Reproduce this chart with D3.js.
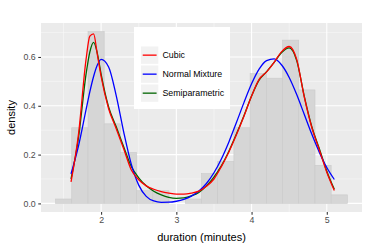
<!DOCTYPE html>
<html>
<head>
<meta charset="utf-8">
<script src="https://cdn.jsdelivr.net/npm/d3@7"></script>
<style>
  body { margin: 0; background: #fff; }
  svg { display: block; font-family: "Liberation Sans", Arial, sans-serif; }
</style>
</head>
<body>
<div id="chart"></div>
<script>
// histogram bins (edges) and density heights
const binEdges = [1.395, 1.61, 1.826, 2.041, 2.257, 2.472, 2.688, 2.903, 3.119, 3.334,
  3.55, 3.765, 3.981, 4.196, 4.412, 4.627, 4.843, 5.058, 5.274];
const binDensity = [0.018, 0.31, 0.704, 0.326, 0.209, 0.052, 0.052, 0, 0.018, 0.122,
  0.172, 0.31, 0.532, 0.513, 0.669, 0.465, 0.156, 0.035];

// density curves
const xGrid = [1.6, 1.7, 1.8, 1.85, 1.9, 1.95, 2.0, 2.1, 2.2, 2.3, 2.4, 2.5, 2.6, 2.7, 2.8, 2.9,
  3.0, 3.1, 3.2, 3.3, 3.4, 3.5, 3.6, 3.7, 3.8, 3.9, 4.0, 4.1, 4.2, 4.3, 4.4, 4.5, 4.6, 4.7, 4.8,
  4.9, 5.0, 5.1];
const cubic = [0.088, 0.285, 0.59, 0.685, 0.695, 0.61, 0.52, 0.388, 0.307, 0.224, 0.138, 0.097,
  0.072, 0.058, 0.048, 0.042, 0.038, 0.038, 0.042, 0.05, 0.07, 0.10, 0.152, 0.212, 0.282, 0.358,
  0.44, 0.508, 0.539, 0.578, 0.622, 0.643, 0.59, 0.437, 0.312, 0.22, 0.128, 0.053];
const normalMix = [0.121, 0.236, 0.384, 0.457, 0.520, 0.567, 0.590, 0.559, 0.443, 0.293, 0.162,
  0.075, 0.029, 0.010, 0.0046, 0.0049, 0.0088, 0.0165, 0.0296, 0.0505, 0.0817, 0.1256, 0.183,
  0.253, 0.3325, 0.414, 0.490, 0.550, 0.585, 0.592, 0.567, 0.516, 0.446, 0.365, 0.284, 0.210,
  0.147, 0.098];
const semiparam = [0.10, 0.27, 0.53, 0.62, 0.66, 0.615, 0.53, 0.395, 0.315, 0.232, 0.152, 0.105,
  0.072, 0.05, 0.035, 0.025, 0.021, 0.023, 0.031, 0.045, 0.072, 0.108, 0.155, 0.215, 0.285, 0.36,
  0.44, 0.505, 0.54, 0.578, 0.618, 0.637, 0.585, 0.44, 0.315, 0.225, 0.132, 0.058];

const seriesNames = ["Cubic", "Normal Mixture", "Semiparametric"];
const seriesColors = ["#FF0000", "#0000FF", "#006400"];

const xTicks = [2, 3, 4, 5];
const xMinor = [1.5, 2.5, 3.5, 4.5];
const yTicks = [0, 0.2, 0.4, 0.6];
const yMinor = [0.1, 0.3, 0.5, 0.7];

const width = 368, height = 248;
const margin = { top: 23, right: 6, bottom: 36, left: 41 };

const svg = d3.select("#chart").append("svg")
  .attr("width", width)
  .attr("height", height);

// ggplot-style 5% expansion
const xMin = binEdges[0], xMax = binEdges[binEdges.length - 1];
const xPad = (xMax - xMin) * 0.05;
const yMax = d3.max(binDensity);
const yPad = yMax * 0.05;

const x = d3.scaleLinear()
  .domain([xMin - xPad, xMax + xPad])
  .range([margin.left, width - margin.right]);
const y = d3.scaleLinear()
  .domain([-yPad, yMax + yPad])
  .range([height - margin.bottom, margin.top]);

// panel
svg.append("rect")
  .attr("x", margin.left).attr("y", margin.top)
  .attr("width", width - margin.left - margin.right)
  .attr("height", height - margin.top - margin.bottom)
  .attr("fill", "#EBEBEB");

const grid = svg.append("g");
grid.selectAll("line.xminor").data(xMinor).join("line")
  .attr("x1", d => x(d)).attr("x2", d => x(d))
  .attr("y1", margin.top).attr("y2", height - margin.bottom)
  .attr("stroke", "#fafafa").attr("stroke-width", 0.55);
grid.selectAll("line.yminor").data(yMinor).join("line")
  .attr("y1", d => y(d)).attr("y2", d => y(d))
  .attr("x1", margin.left).attr("x2", width - margin.right)
  .attr("stroke", "#fafafa").attr("stroke-width", 0.55);
grid.selectAll("line.xmajor").data(xTicks).join("line")
  .attr("x1", d => x(d)).attr("x2", d => x(d))
  .attr("y1", margin.top).attr("y2", height - margin.bottom)
  .attr("stroke", "#fff").attr("stroke-width", 1.07);
grid.selectAll("line.ymajor").data(yTicks).join("line")
  .attr("y1", d => y(d)).attr("y2", d => y(d))
  .attr("x1", margin.left).attr("x2", width - margin.right)
  .attr("stroke", "#fff").attr("stroke-width", 1.07);

// histogram
const bins = binDensity.map((d, i) => ({ x0: binEdges[i], x1: binEdges[i + 1], d }));
svg.append("g").selectAll("rect").data(bins).join("rect")
  .attr("x", b => x(b.x0))
  .attr("width", b => x(b.x1) - x(b.x0))
  .attr("y", b => y(b.d))
  .attr("height", b => y(0) - y(b.d))
  .attr("fill", "#d6d6d6")
  .attr("stroke", "#cacaca")
  .attr("stroke-width", 0.6);

// curves
const line = d3.line()
  .curve(d3.curveMonotoneX)
  .x(d => x(d[0]))
  .y(d => y(d[1]));

const curves = [
  { vals: semiparam, color: seriesColors[2] },
  { vals: normalMix, color: seriesColors[1] },
  { vals: cubic, color: seriesColors[0] }
];
svg.append("g").selectAll("path").data(curves).join("path")
  .attr("d", c => line(xGrid.map((xv, i) => [xv, c.vals[i]])))
  .attr("fill", "none")
  .attr("stroke", c => c.color)
  .attr("stroke-width", 1.3);

// axes
const xAxis = svg.append("g")
  .attr("transform", `translate(0,${height - margin.bottom})`)
  .call(d3.axisBottom(x).tickValues(xTicks).tickFormat(d3.format("d")).tickSize(2.75).tickPadding(2.5));
const yAxis = svg.append("g")
  .attr("transform", `translate(${margin.left},0)`)
  .call(d3.axisLeft(y).tickValues(yTicks).tickFormat(d3.format(".1f")).tickSize(2.75).tickPadding(2.5));
[xAxis, yAxis].forEach(a => {
  a.select(".domain").remove();
  a.selectAll(".tick line").attr("stroke", "#333333").attr("stroke-width", 1.07);
  a.selectAll(".tick text").attr("fill", "#4D4D4D")
    .style("font-size", "8.8px").style("font-family", "Liberation Sans, Arial, sans-serif");
});

svg.append("text")
  .attr("x", (margin.left + width - margin.right) / 2)
  .attr("y", 240.5)
  .attr("text-anchor", "middle")
  .style("font-size", "11px")
  .text("duration (minutes)");

svg.append("text")
  .attr("transform", `translate(15,${(margin.top + height - margin.bottom) / 2}) rotate(-90)`)
  .attr("text-anchor", "middle")
  .style("font-size", "11px")
  .text("density");

// legend
const legend = svg.append("g");
legend.append("rect")
  .attr("x", 134).attr("y", 27)
  .attr("width", 96).attr("height", 82)
  .attr("fill", "#fff");
const rows = legend.selectAll("g.row").data(seriesNames).join("g")
  .attr("transform", (d, i) => `translate(141,${46.5 + i * 19})`);
rows.append("rect")
  .attr("width", 17.3).attr("height", 17.3)
  .attr("fill", "#F2F2F2");
rows.append("line")
  .attr("x1", 1.7).attr("x2", 15.6)
  .attr("y1", 8.65).attr("y2", 8.65)
  .attr("stroke", (d, i) => seriesColors[i])
  .attr("stroke-width", 1.3);
rows.append("text")
  .attr("x", 21.5).attr("y", 8.65)
  .attr("dy", "0.35em")
  .style("font-size", "8.8px")
  .text(d => d);
</script>
</body>
</html>
